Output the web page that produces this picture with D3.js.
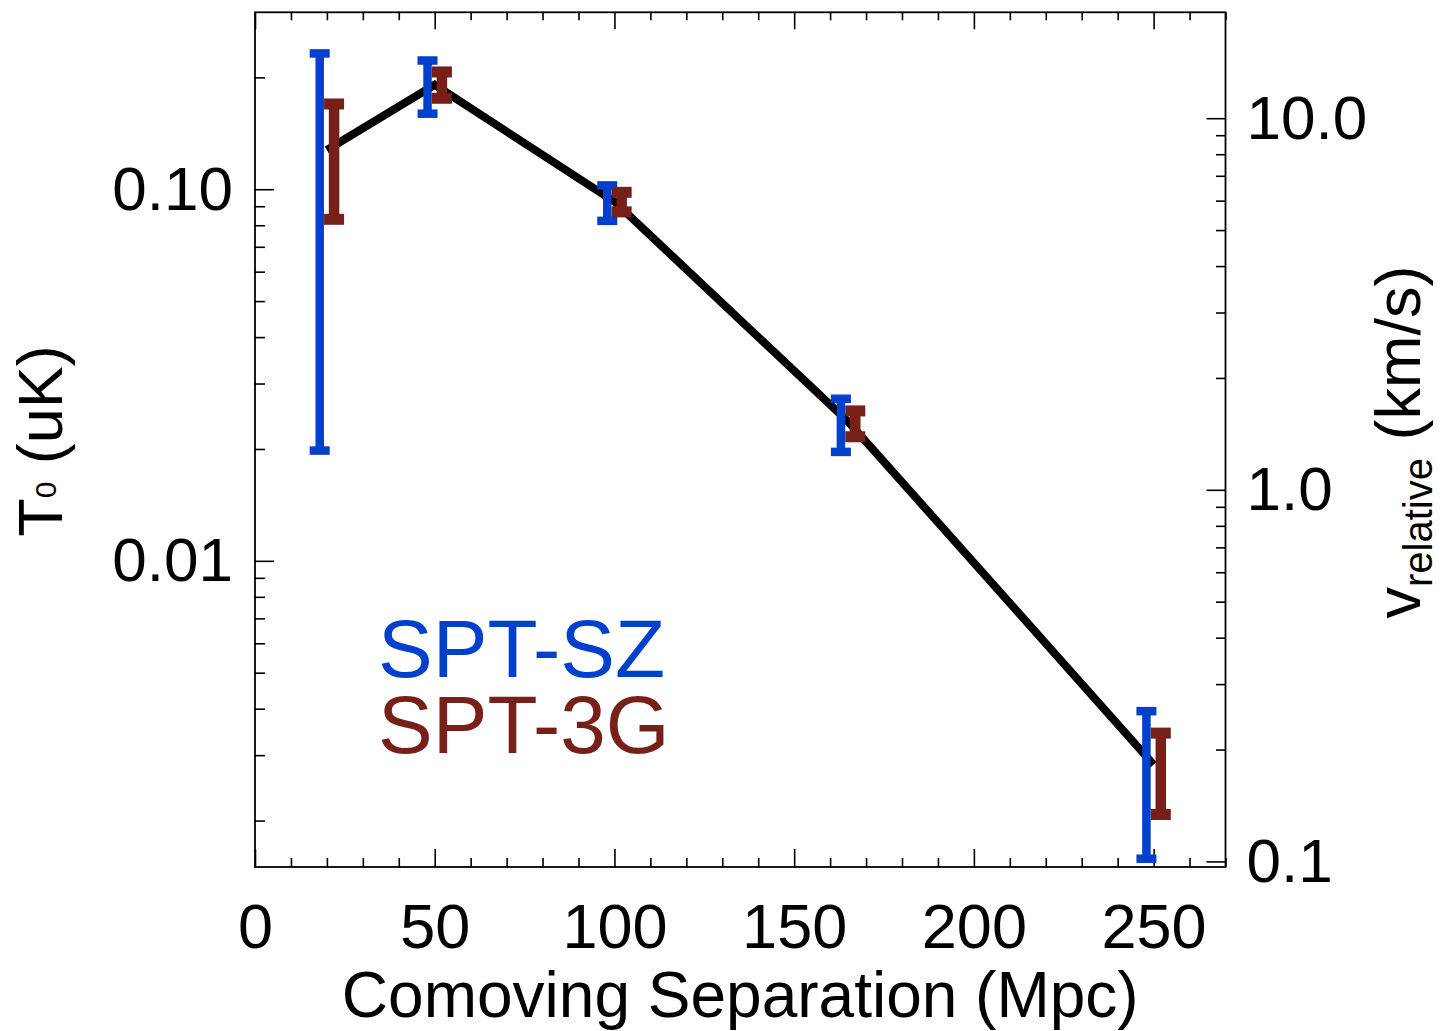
<!DOCTYPE html>
<html>
<head>
<meta charset="utf-8">
<script src="https://cdn.jsdelivr.net/npm/d3@7"></script>
<style>
  html, body { margin: 0; padding: 0; background: #fff; }
  svg text { font-family: "Liberation Sans", Arial, Helvetica, sans-serif; fill: #000; }
</style>
</head>
<body>
<svg id="chart" width="1445" height="1031"></svg>
<script>
// ---- data ----
var separation = [20, 50, 100, 165, 250];           // Mpc
var modelT0 = [0.1275, 0.191, 0.0926, 0.0237, 0.00283];

var sztX = [18, 48, 98, 163, 248];
var sztHi = [0.232, 0.222, 0.1024, 0.0273, 0.00394];
var sztLo = [0.0198, 0.1597, 0.0822, 0.01964, 0.001579];

var g3X = [22, 52, 102, 167, 252];
var g3Hi = [0.1696, 0.2068, 0.0981, 0.02532, 0.003439];
var g3Lo = [0.0830, 0.1757, 0.0869, 0.02157, 0.002077];

var xMajor = [0, 50, 100, 150, 200, 250];
var yMajor = [0.01, 0.1];
var yLabels = ['0.01', '0.10'];
var vMajor = [0.1, 1, 10];
var vLabels = ['0.1', '1.0', '10.0'];

var legendNames = ['SPT-SZ', 'SPT-3G'];

var T_TO_V = 64.4;   // km/s per uK, right axis conversion

// ---- layout ----
var L = 255, R = 1225.5, T = 12.3, B = 867;
var svg = d3.select('#chart');

var x = d3.scaleLinear().domain([0, 270]).range([L, R]);
var y = d3.scaleLog().domain([0.0015, 0.2993]).range([B, T]);
var yv = d3.scaleLog().domain([0.0015 * T_TO_V, 0.2993 * T_TO_V]).range([B, T]);

function logMinors(scale) {
  var d = scale.domain(), out = [];
  for (var e = -4; e <= 3; e++) {
    for (var m = 2; m <= 9; m++) {
      var v = m * Math.pow(10, e);
      if (v >= d[0] && v <= d[1]) out.push(v);
    }
  }
  return out;
}
var xMinor = d3.range(0, 271, 10).filter(function (v) { return v % 50 !== 0; });

function styleAxis(g) {
  g.select('.domain').remove();
  g.selectAll('line').attr('stroke', '#000').attr('stroke-width', 1.6);
  g.selectAll('text').attr('font-size', 62).attr('font-family', '"Liberation Sans", Arial, sans-serif').attr('fill', '#000');
}

// bottom
svg.append('g').attr('transform', 'translate(0,' + B + ')')
  .call(d3.axisBottom(x).tickValues(xMajor).tickSize(-18).tickPadding(36).tickFormat(d3.format('d')))
  .call(styleAxis)
  .selectAll('text').attr('font-size', 63);
svg.append('g').attr('transform', 'translate(0,' + B + ')')
  .call(d3.axisBottom(x).tickValues(xMinor).tickSize(-9).tickFormat(''))
  .call(styleAxis);
// top
svg.append('g').attr('transform', 'translate(0,' + T + ')')
  .call(d3.axisTop(x).tickValues(xMajor).tickSize(-17).tickFormat(''))
  .call(styleAxis);
svg.append('g').attr('transform', 'translate(0,' + T + ')')
  .call(d3.axisTop(x).tickValues(xMinor).tickSize(-8).tickFormat(''))
  .call(styleAxis);
// left
svg.append('g').attr('transform', 'translate(' + L + ',0)')
  .call(d3.axisLeft(y).tickValues(yMajor).tickSize(-19).tickPadding(22)
    .tickFormat(function (d, i) { return yLabels[i]; }))
  .call(styleAxis);
svg.append('g').attr('transform', 'translate(' + L + ',0)')
  .call(d3.axisLeft(y).tickValues(logMinors(y)).tickSize(-10).tickFormat(''))
  .call(styleAxis);
// right
svg.append('g').attr('transform', 'translate(' + R + ',0)')
  .call(d3.axisRight(yv).tickValues(vMajor).tickSize(-19).tickPadding(21)
    .tickFormat(function (d, i) { return vLabels[i]; }))
  .call(styleAxis);
svg.append('g').attr('transform', 'translate(' + R + ',0)')
  .call(d3.axisRight(yv).tickValues(logMinors(yv)).tickSize(-9.5).tickFormat(''))
  .call(styleAxis);

// frame
svg.append('rect').attr('x', L).attr('y', T).attr('width', R - L).attr('height', B - T)
  .attr('fill', 'none').attr('stroke', '#000').attr('stroke-width', 1.8);

// model line
var line = d3.line().x(function (d, i) { return x(separation[i]); }).y(function (d) { return y(d); });
svg.append('path').datum(modelT0).attr('d', line)
  .attr('fill', 'none').attr('stroke', '#000').attr('stroke-width', 8)
  .attr('stroke-linejoin', 'miter');

// error bars
function errorBars(xs, lo, hi, color, lw, capW, capH) {
  var g = svg.append('g');
  xs.forEach(function (xv, i) {
    var cx = x(xv), y0 = y(lo[i]), y1 = y(hi[i]);
    g.append('line').attr('x1', cx).attr('x2', cx).attr('y1', y0).attr('y2', y1)
      .attr('stroke', color).attr('stroke-width', lw);
    [y0, y1].forEach(function (yy) {
      g.append('rect').attr('x', cx - capW / 2).attr('y', yy - capH / 2)
        .attr('width', capW).attr('height', capH).attr('fill', color);
    });
  });
}
var BLUE = '#0040cc', RED = '#771f19';
errorBars(sztX, sztLo, sztHi, BLUE, 8.5, 20, 8.5);
errorBars(g3X, g3Lo, g3Hi, RED, 10.5, 20, 11);

// axis titles
svg.append('text').attr('x', (L + R) / 2).attr('y', 1017).attr('text-anchor', 'middle')
  .attr('font-size', 64).text('Comoving Separation (Mpc)');

var lt = svg.append('text').attr('transform', 'translate(62,441) rotate(-90)')
  .attr('text-anchor', 'middle').attr('font-size', 63);
lt.append('tspan').text('T');
lt.append('tspan').attr('font-size', 30).attr('dy', -6).text('0');
lt.append('tspan').attr('dy', 6).text(' (uK)');

var rt = svg.append('text').attr('transform', 'translate(1420,442) rotate(-90)')
  .attr('text-anchor', 'middle').attr('font-size', 63);
rt.append('tspan').text('v');
rt.append('tspan').attr('font-size', 40).attr('dy', 12).text('relative');
rt.append('tspan').attr('dy', -12).text(' (km/s)');

// legend: two stacked lines in one block
var leg = svg.append('text').attr('x', 378).attr('y', 677).attr('font-size', 82);
leg.selectAll('tspan').data(legendNames).enter().append('tspan')
  .attr('x', 378).attr('dy', function (d, i) { return i === 0 ? 0 : 76; })
  .style('fill', function (d, i) { return i === 0 ? BLUE : RED; })
  .text(function (d) { return d; });
</script>
</body>
</html>
